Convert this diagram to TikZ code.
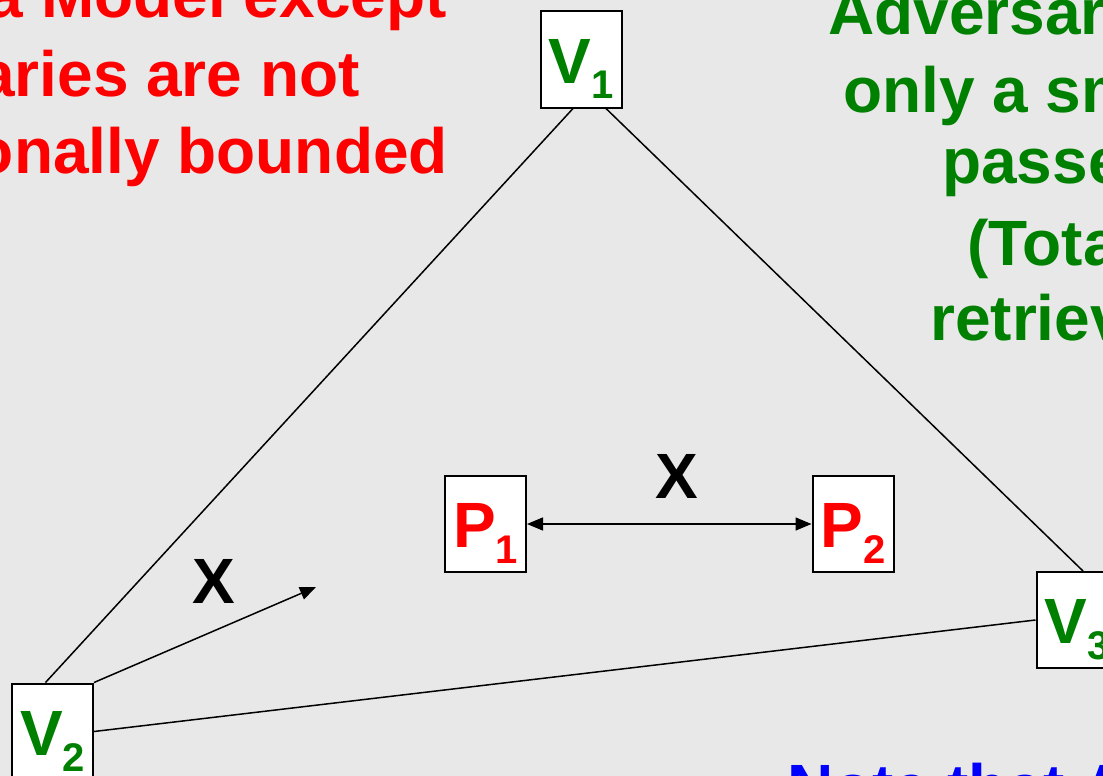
\documentclass[tikz,border=0pt]{standalone}
\usepackage{fontspec}
\setmainfont{Liberation Sans}
\usepackage{tikz}
\usetikzlibrary{arrows.meta,positioning,calc}

\definecolor{slidebg}{RGB}{232,232,232}
\definecolor{pptgreen}{RGB}{0,128,0}
\newcommand{\sublabel}[2]{#1\raisebox{-0.25em}{\fontsize{40}{40}\selectfont #2}}

\begin{document}
\begin{tikzpicture}[
    x=1pt,y=-1pt,
    font=\fontsize{64}{77}\selectfont\bfseries,
    party/.style={draw=black,line width=2pt,fill=white,minimum width=81pt,
        minimum height=96pt,inner sep=0pt,text height=50pt,text depth=3pt},
    link/.style={line width=1.5pt,black},
    arr/.style={link,-{Triangle[length=16pt,width=13pt]}},
    slide/.style={inner sep=0pt},
]
    \path[use as bounding box] (0,0) rectangle (1103,776);
    \clip (0,0) rectangle (1103,776);
    \fill[slidebg] (0,0) rectangle (1103,776);

    % slide text, cut by the frame
    \node[slide,text=red,anchor=base east] (redA) at (447,18) {a Model except};
    \node[slide,text=red,anchor=base east] (redB) at (360,96) {aries are not};
    \node[slide,text=red,anchor=base east] (redC) at (448,173) {onally bounded};

    \node[slide,text=pptgreen,anchor=base west] (grnA) at (828,35) {Adversar};
    \node[slide,text=pptgreen,anchor=base west] (grnB) at (843,112) {only a sm};
    \node[slide,text=pptgreen,anchor=base west] (grnC) at (942,183) {passe};
    \node[slide,text=pptgreen,anchor=base west] (grnD) at (967,265) {(Tota};
    \node[slide,text=pptgreen,anchor=base west] (grnE) at (930,340) {retriev};

    \node[slide,text=blue,anchor=base west] (note) at (787,809) {Note that A};

    % players
    \node[party,text=pptgreen] (V1) at (581,59.5) {\sublabel{V}{1}};
    \node[party,text=pptgreen] (V2) at (52.5,731.5) {\sublabel{V}{2}};
    \node[party,text=pptgreen] (V3) at (1077,620) {\sublabel{V}{3}};
    \node[party,text=red] (P1) at (485.5,524) {\sublabel{P}{1}};
    \node[party,text=red] (P2) at (853,524) {\sublabel{P}{2}};

    \draw[link] ([xshift=-8pt]V1.south) -- ([xshift=-7pt]V2.north);
    \draw[link] ([xshift=25pt]V1.south) -- ([xshift=6pt]V3.north);
    \draw[link] (V2.east) -- (V3.west);

    \coordinate (aim) at (316,587);
    \draw[arr] (V2.north east) -- (aim);
    \draw[arr,{Triangle[length=16pt,width=13pt]}-{Triangle[length=16pt,width=13pt]}] (P1) -- (P2);

    \node[slide] (xpair) at (677,476) {X};
    \node[slide] (xaim) at (214,581) {X};
\end{tikzpicture}
\end{document}
